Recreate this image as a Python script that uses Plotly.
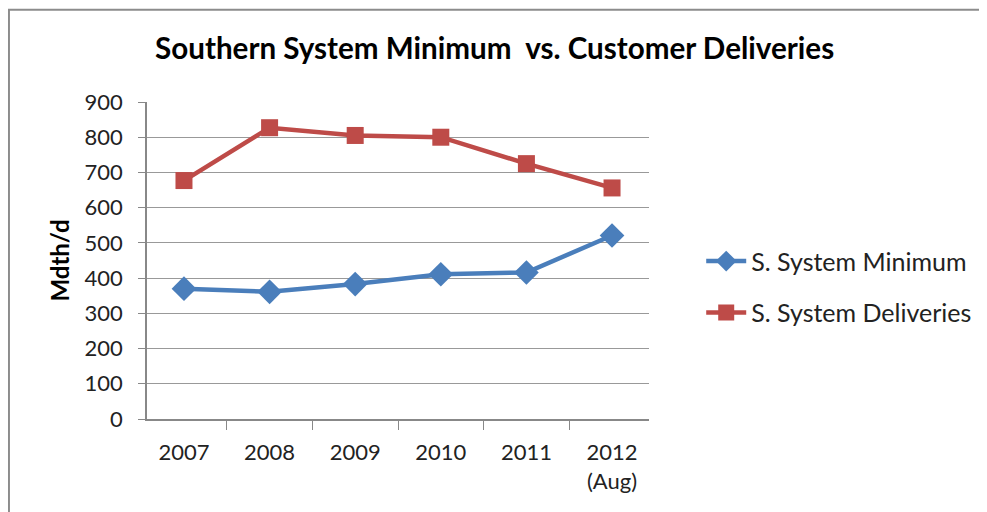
import plotly.graph_objects as go

categories = ["2007", "2008", "2009", "2010", "2011", "2012<br>(Aug)"]
s_minimum = [370, 361, 383, 411, 416, 521]
s_deliveries = [677, 827, 805, 800, 725, 656]
y_ticks = [0, 100, 200, 300, 400, 500, 600, 700, 800, 900]

FONT = "Lato, Open Sans, sans-serif"

fig = go.Figure()
fig.add_trace(go.Scatter(
    x=categories, y=s_minimum, name="S. System Minimum", mode="lines+markers",
    legendgroup="a",
    line=dict(color="#4A7EBB", width=4.5),
    marker=dict(symbol="diamond", size=19, color="#4A7EBB"),
))
fig.add_trace(go.Scatter(
    x=categories, y=s_deliveries, name="S. System Deliveries", mode="lines+markers",
    legendgroup="b",
    line=dict(color="#BE4B48", width=4.5),
    marker=dict(symbol="square", size=17, color="#BE4B48"),
))

fig.update_layout(
    width=987, height=512,
    margin=dict(l=139, r=346, t=93.5, b=101),
    paper_bgcolor="white", plot_bgcolor="white",
    font=dict(family=FONT, size=22, color="black"),
    title=dict(text="<b>Southern System Minimum  vs. Customer Deliveries</b>",
               x=0.493, xanchor="center", xref="container", y=0.92, yanchor="middle",
               yref="container", font=dict(size=29.6, family=FONT, color="black")),
    showlegend=True,
    legend=dict(x=1.104, y=0.417, xanchor="left", yanchor="middle",
                font=dict(size=25, family=FONT, color="#222222"), tracegroupgap=16,
                itemwidth=40, bgcolor="rgba(0,0,0,0)"),
    xaxis=dict(type="category", showgrid=False, showline=True, linecolor="#888888",
               linewidth=1.5, ticks="outside", tickson="boundaries", ticklen=9,
               tickcolor="#888888", ticklabelstandoff=13,
               tickfont=dict(size=22, family=FONT, color="#222222")),
    yaxis=dict(range=[0, 900], tickvals=y_ticks, showgrid=True, gridcolor="#999999",
               gridwidth=1.2, showline=True, linecolor="#888888", linewidth=1.5,
               ticks="outside", ticklen=7, tickcolor="#888888", zeroline=False,
               ticklabelstandoff=11,
               tickfont=dict(size=22, family=FONT, color="#222222"),
               title=dict(text="<b>Mdth/d</b>", standoff=8,
                          font=dict(size=24, family=FONT, color="black"))),
)

fig.add_shape(type="rect", xref="paper", yref="paper",
              x0=-0.275, x1=2.0, y0=-1.0, y1=1.291,
              line=dict(color="#8c8c8c", width=2), layer="below")

fig.write_html("out.html")
